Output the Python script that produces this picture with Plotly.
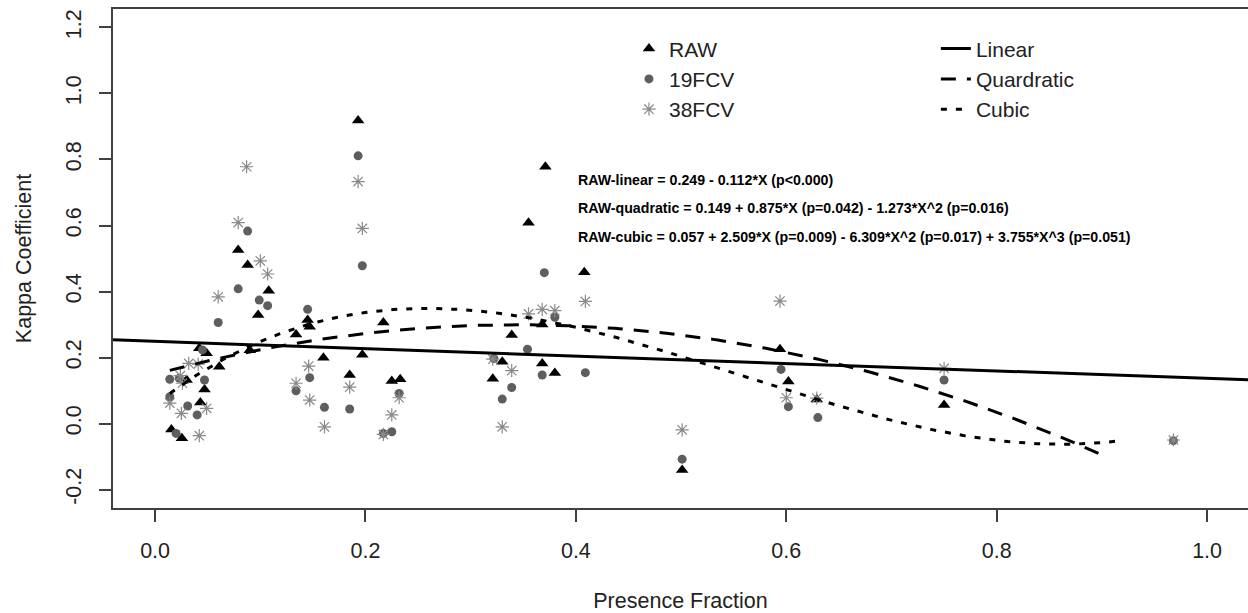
import numpy as np
import plotly.graph_objects as go

# ---------------- data ----------------
raw_x = [0.0155, 0.0255, 0.030, 0.042, 0.049, 0.043, 0.047, 0.061, 0.079, 0.088,
         0.090, 0.098, 0.108, 0.134, 0.145, 0.147, 0.160, 0.185, 0.193, 0.197,
         0.217, 0.225, 0.233, 0.321, 0.330, 0.339, 0.355, 0.368, 0.368, 0.371,
         0.380, 0.408, 0.501, 0.594, 0.602, 0.629, 0.750]
raw_y = [-0.018, -0.045, 0.132, 0.228, 0.213, 0.064, 0.103, 0.172, 0.526, 0.480,
         0.222, 0.329, 0.402, 0.270, 0.314, 0.293, 0.199, 0.147, 0.918, 0.208,
         0.306, 0.129, 0.134, 0.136, 0.187, 0.268, 0.608, 0.300, 0.182, 0.778,
         0.153, 0.458, -0.141, 0.225, 0.127, 0.073, 0.056]

f19_x = [0.020, 0.014, 0.031, 0.040, 0.047, 0.014, 0.023, 0.045, 0.060, 0.079,
         0.088, 0.099, 0.107, 0.134, 0.145, 0.147, 0.161, 0.185, 0.193, 0.197,
         0.217, 0.225, 0.232, 0.322, 0.330, 0.339, 0.354, 0.368, 0.370, 0.380,
         0.409, 0.501, 0.595, 0.602, 0.630, 0.750, 0.968]
f19_y = [-0.030, 0.081, 0.053, 0.026, 0.132, 0.134, 0.137, 0.223, 0.306, 0.408,
         0.583, 0.374, 0.357, 0.099, 0.346, 0.139, 0.049, 0.044, 0.811, 0.478,
         -0.030, -0.025, 0.091, 0.197, 0.074, 0.109, 0.225, 0.147, 0.457, 0.322,
         0.154, -0.108, 0.164, 0.051, 0.018, 0.132, -0.052]

f38_x = [0.014, 0.025, 0.042, 0.049, 0.032, 0.041, 0.026, 0.024, 0.060, 0.079,
         0.087, 0.100, 0.107, 0.134, 0.146, 0.147, 0.161, 0.185, 0.193, 0.197,
         0.217, 0.225, 0.232, 0.321, 0.330, 0.339, 0.355, 0.368, 0.380, 0.409,
         0.501, 0.594, 0.600, 0.629, 0.750, 0.968]
f38_y = [0.062, 0.031, -0.037, 0.046, 0.182, 0.180, 0.122, 0.145, 0.384, 0.609,
         0.778, 0.493, 0.453, 0.122, 0.174, 0.071, -0.010, 0.110, 0.733, 0.591,
         -0.033, 0.026, 0.078, 0.195, -0.010, 0.160, 0.332, 0.346, 0.342, 0.370,
         -0.019, 0.371, 0.078, 0.077, 0.167, -0.050]

# regression coefficients (from the annotation text)
lin_coef = [0.249, -0.112]
quad_coef = [0.149, 0.875, -1.273]
cub_coef = [0.057, 2.509, -6.309, 3.755]
quad_xrange = [0.014, 0.900]
cub_xrange = [0.014, 0.915]

eq_texts = [
    "RAW-linear = 0.249 - 0.112*X (p<0.000)",
    "RAW-quadratic = 0.149 + 0.875*X (p=0.042) - 1.273*X^2 (p=0.016)",
    "RAW-cubic = 0.057 + 2.509*X (p=0.009) - 6.309*X^2 (p=0.017) + 3.755*X^3 (p=0.051)",
]
eq_x = 0.40
eq_y = [0.738, 0.652, 0.564]

x_ticks = [0.0, 0.2, 0.4, 0.6, 0.8, 1.0]
y_ticks = [-0.2, 0.0, 0.2, 0.4, 0.6, 0.8, 1.0, 1.2]
x_range = [-0.04, 1.0389]
y_range = [-0.256, 1.256]

# ---------------- figure ----------------
FONT = "Liberation Sans, Arial, sans-serif"
AX = "#404040"


def poly(coefs, xs):
    xs = np.asarray(xs)
    return sum(c * xs ** i for i, c in enumerate(coefs))


fig = go.Figure()

fig.add_trace(go.Scatter(x=raw_x, y=raw_y, mode="markers", name="RAW",
                         marker=dict(symbol="triangle-up", size=11, color="black"),
                         legend="legend"))
fig.add_trace(go.Scatter(x=f19_x, y=f19_y, mode="markers", name="19FCV",
                         marker=dict(symbol="circle", size=9, color="#5e5e5e"),
                         legend="legend"))
fig.add_trace(go.Scatter(x=f38_x, y=f38_y, mode="markers", name="38FCV",
                         marker=dict(symbol="asterisk-open", size=11,
                                     color="#8a8a8a",
                                     line=dict(color="#8a8a8a", width=1.2)),
                         legend="legend"))

xl = np.linspace(x_range[0], x_range[1], 50)
fig.add_trace(go.Scatter(x=xl, y=poly(lin_coef, xl), mode="lines", name="Linear",
                         line=dict(color="black", width=3), legend="legend2"))
xq = np.linspace(quad_xrange[0], quad_xrange[1], 200)
fig.add_trace(go.Scatter(x=xq, y=poly(quad_coef, xq), mode="lines", name="Quardratic",
                         line=dict(color="black", width=3, dash="15px,11px"),
                         legend="legend2"))
xc = np.linspace(cub_xrange[0], cub_xrange[1], 200)
fig.add_trace(go.Scatter(x=xc, y=poly(cub_coef, xc), mode="lines", name="Cubic",
                         line=dict(color="black", width=3, dash="6px,9px"),
                         legend="legend2"))

for t, yy in zip(eq_texts, eq_y):
    fig.add_annotation(x=eq_x, y=yy, xref="x", yref="y", text="<b>%s</b>" % t,
                       showarrow=False, xanchor="left", yanchor="middle",
                       font=dict(family=FONT, size=14.2, color="black"))

leg_common = dict(font=dict(family=FONT, size=21, color="#222"),
                  bgcolor="rgba(0,0,0,0)", borderwidth=0,
                  xanchor="left", yanchor="top", traceorder="normal")

fig.update_layout(
    width=1248, height=613,
    margin=dict(l=113, r=0, t=9, b=105),
    plot_bgcolor="white", paper_bgcolor="white",
    font=dict(family=FONT, color="#222"),
    legend=dict(x=0.4546, y=0.961, **leg_common),
    legend2=dict(x=0.725, y=0.961, **leg_common),
    xaxis=dict(range=x_range, tickvals=x_ticks,
               ticktext=["%.1f" % v for v in x_ticks],
               showline=True, mirror=True, linecolor=AX, linewidth=1.5,
               ticks="outside", ticklen=12, tickwidth=1.5, tickcolor=AX,
               showgrid=False, zeroline=False,
               tickfont=dict(family=FONT, size=21.5, color="#222"),
               ticklabelstandoff=10,
               title=dict(text="Presence Fraction", standoff=32,
                          font=dict(family=FONT, size=21.5, color="#222"))),
    yaxis=dict(range=y_range, tickvals=y_ticks,
               ticktext=["%.1f" % v for v in y_ticks],
               showline=True, mirror=False, linecolor=AX, linewidth=1.5,
               ticks="outside", ticklen=12, tickwidth=1.5, tickcolor=AX,
               showgrid=False, zeroline=False, tickangle=-90,
               tickfont=dict(family=FONT, size=21.5, color="#222"),
               ticklabelstandoff=10,
               title=dict(text="Kappa Coefficient", standoff=24,
                          font=dict(family=FONT, size=21.5, color="#222"))),
)

fig.write_html("out.html")
